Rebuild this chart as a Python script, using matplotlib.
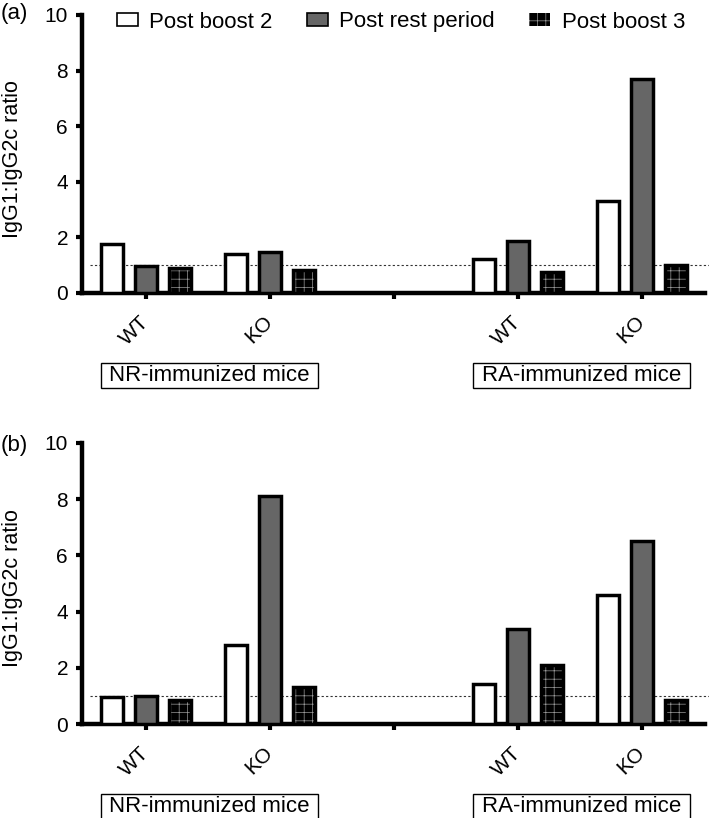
import numpy as np
import matplotlib
matplotlib.use('Agg')
import matplotlib.pyplot as plt
from matplotlib.patches import Patch, Rectangle

plt.rcParams['font.family'] = ['Liberation Sans', 'DejaVu Sans']
plt.rcParams['hatch.linewidth'] = 0.5

# ---------------- data ----------------
categories = ['WT', 'KO', '', 'WT', 'KO']
group_cats = [0, 1, 3, 4]
series = ['Post boost 2', 'Post rest period', 'Post boost 3']
groups = ['NR-immunized mice', 'RA-immunized mice']
panel_labels = ['(a)', '(b)']
ylabel = 'IgG1:IgG2c ratio'

a_boost2 = [1.78, 1.39, 1.24, 3.30]
a_rest = [0.97, 1.46, 1.86, 7.68]
a_boost3 = [0.90, 0.84, 0.77, 0.99]

b_boost2 = [0.95, 2.82, 1.44, 4.60]
b_rest = [1.01, 8.11, 3.37, 6.50]
b_boost3 = [0.86, 1.30, 2.11, 0.85]

yticks = [0, 2, 4, 6, 8, 10]
ref_line = 1.0

# ---------------- figure ----------------
W, H = 709, 818
fig = plt.figure(figsize=(W / 100, H / 100), dpi=100)

SPINE_LW = 3.2
BAR_LW = 2.5
GREY = '#666666'
HATCH_C = '#9a9a9a'


def make_axes(top_px, bottom_px, left_px=82, right_px=705):
    return fig.add_axes([left_px / W, 1 - bottom_px / H,
                         (right_px - left_px) / W, (bottom_px - top_px) / H])


def draw(ax, b1, b2, b3, h_px, label, label_y_px):
    x = np.array(group_cats, float)
    offs = [-0.274, 0.0, 0.274]
    w = 0.175
    ax.bar(x + offs[0], b1, w, facecolor='white', edgecolor='black', lw=BAR_LW, zorder=3)
    ax.bar(x + offs[1], b2, w, facecolor=GREY, edgecolor='black', lw=BAR_LW, zorder=3)
    ax.bar(x + offs[2], b3, w, facecolor='black', edgecolor=HATCH_C, hatch='++', lw=0, zorder=3)
    ax.bar(x + offs[2], b3, w, facecolor='none', edgecolor='black', lw=BAR_LW, zorder=4)

    ax.plot([-0.45, 4.7], [ref_line, ref_line], ls=(0, (2, 2)), color='#333333',
            lw=0.8, zorder=2, clip_on=False)

    ax.set_xlim(-0.516, 4.508)
    ax.set_ylim(0, 10)
    ax.set_yticks(yticks)
    ax.set_yticklabels([str(t) for t in yticks], fontsize=15)
    ax.set_xticks(range(len(categories)))
    ax.set_xticklabels(categories, rotation=45, ha='right', va='center',
                       rotation_mode='anchor', fontsize=15)
    ax.tick_params(axis='both', direction='out', width=3, length=4)
    ax.tick_params(axis='y', pad=6)
    ax.tick_params(axis='x', pad=14.5)
    for s in ['top', 'right']:
        ax.spines[s].set_visible(False)
    for s in ['left', 'bottom']:
        ax.spines[s].set_linewidth(SPINE_LW)
        ax.spines[s].set_capstyle('projecting')

    ax.text(-0.111, 0.482, ylabel, transform=ax.transAxes, rotation=90,
            ha='center', va='center', fontsize=15.5)

    trans = ax.get_xaxis_transform()
    top = -70 / h_px
    bot = -95 / h_px
    for gi, name in enumerate(groups):
        c = (group_cats[2 * gi] + group_cats[2 * gi + 1]) / 2 + 0.012
        half = 0.875
        ax.add_patch(Rectangle((c - half, bot), 2 * half, top - bot, transform=trans,
                               facecolor='white', edgecolor='black', lw=1.0,
                               clip_on=False))
        ax.text(c, (top + bot) / 2, name, transform=trans, ha='center', va='center',
                fontsize=16)

    fig.text(14 / W, 1 - label_y_px / H, label, ha='center', va='center', fontsize=16)


ax_a = make_axes(15, 293)
draw(ax_a, a_boost2, a_rest, a_boost3, 278, panel_labels[0], 13)

ax_b = make_axes(443, 724)
draw(ax_b, b_boost2, b_rest, b_boost3, 281, panel_labels[1], 445)

handles = [Patch(facecolor='white', edgecolor='black', lw=1.2),
           Patch(facecolor=GREY, edgecolor='black', lw=1.2),
           Patch(facecolor='black', edgecolor=HATCH_C, hatch='++', lw=0)]
fig.legend(handles, series, loc='center left', bbox_to_anchor=(117 / W, 1 - 22 / H),
           ncol=3, frameon=False, fontsize=16, handlelength=0.95, handleheight=0.55,
           handletextpad=0.5, columnspacing=1.55, borderpad=0, borderaxespad=0)

fig.savefig('out.png', dpi=100)
